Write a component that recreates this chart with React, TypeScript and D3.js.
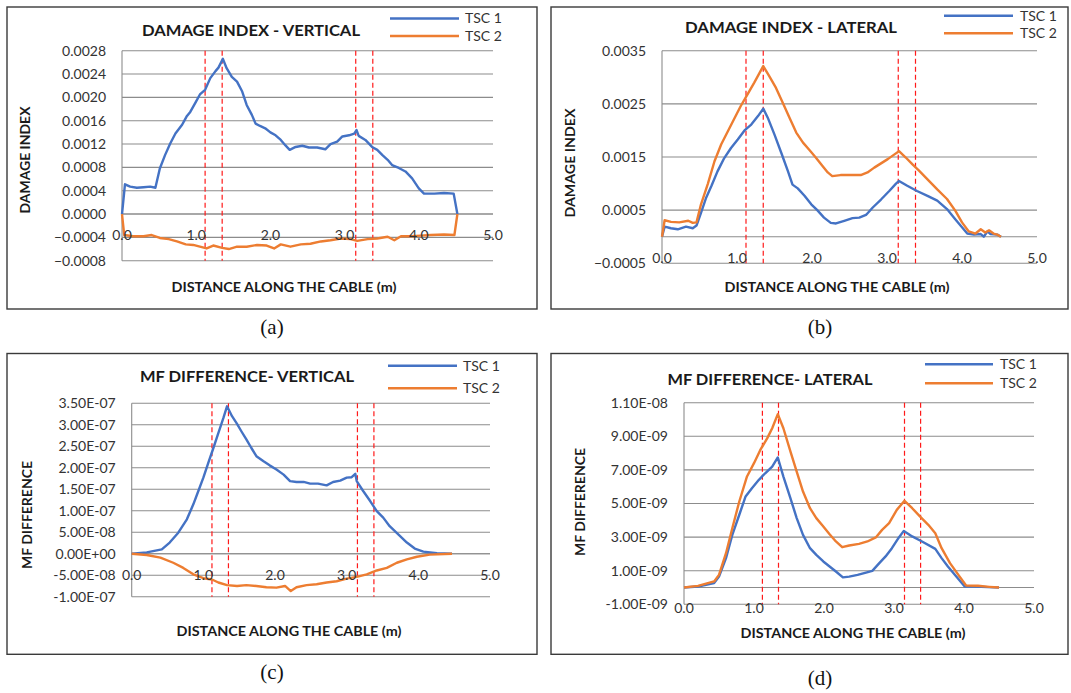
import * as d3 from 'd3';
import React, { FunctionComponent, useEffect, useRef } from 'react';

// distance along the cable (m) and readings
const viDist1 = [0, 0.04, 0.11, 0.2, 0.29, 0.38, 0.45, 0.51, 0.58, 0.65, 0.72, 0.81, 0.87, 0.92, 0.99, 1.05, 1.12, 1.19, 1.26, 1.3, 1.36, 1.41, 1.48, 1.55, 1.62, 1.68, 1.75, 1.8, 1.86, 1.93, 2.0, 2.07, 2.14, 2.2, 2.26, 2.34, 2.43, 2.52, 2.63, 2.74, 2.81, 2.9, 2.97, 3.06, 3.13, 3.16, 3.19, 3.28, 3.37, 3.44, 3.51, 3.58, 3.64, 3.73, 3.82, 3.91, 4.0, 4.07, 4.21, 4.34, 4.47, 4.52];
const viTsc1 = [0, 0.00051, 0.00047, 0.00045, 0.00046, 0.00047, 0.00045, 0.00078, 0.00101, 0.00121, 0.00138, 0.00153, 0.00167, 0.00175, 0.00191, 0.00205, 0.00213, 0.00233, 0.00245, 0.00251, 0.00266, 0.0025, 0.00235, 0.00227, 0.0021, 0.00187, 0.0017, 0.00155, 0.00151, 0.00147, 0.0014, 0.00135, 0.00127, 0.00118, 0.0011, 0.00115, 0.00117, 0.00114, 0.00114, 0.00111, 0.0012, 0.00124, 0.00133, 0.00135, 0.00138, 0.00144, 0.00134, 0.00127, 0.00115, 0.0011, 0.00101, 0.00093, 0.00084, 0.00079, 0.00073, 0.00061, 0.00044, 0.00035, 0.00035, 0.00036, 0.00035, 0];
const viDist2 = [0, 0.03, 0.15, 0.29, 0.4, 0.51, 0.63, 0.74, 0.86, 0.96, 1.05, 1.14, 1.23, 1.35, 1.44, 1.55, 1.68, 1.82, 1.95, 2.05, 2.14, 2.27, 2.41, 2.54, 2.68, 2.81, 2.95, 3.08, 3.17, 3.31, 3.44, 3.58, 3.67, 3.76, 3.89, 4.03, 4.16, 4.34, 4.48, 4.52];
const viTsc2 = [0, -0.00036, -0.00038, -0.00038, -0.00036, -0.00041, -0.00043, -0.00047, -0.00052, -0.00053, -0.00056, -0.00059, -0.00054, -0.00058, -0.0006, -0.00056, -0.00056, -0.00053, -0.00054, -0.00059, -0.00052, -0.00056, -0.00052, -0.00051, -0.00047, -0.00045, -0.00042, -0.00043, -0.00046, -0.00043, -0.00042, -0.00039, -0.00045, -0.00038, -0.00038, -0.00037, -0.00036, -0.00035, -0.00036, 0];

const diDist1 = [0, 0.035, 0.12, 0.21, 0.32, 0.41, 0.46, 0.52, 0.59, 0.66, 0.74, 0.83, 0.92, 1.01, 1.1, 1.19, 1.28, 1.35, 1.41, 1.5, 1.59, 1.68, 1.74, 1.81, 1.9, 1.99, 2.07, 2.16, 2.25, 2.32, 2.43, 2.54, 2.63, 2.72, 2.81, 2.92, 3.03, 3.12, 3.16, 3.27, 3.4, 3.54, 3.67, 3.8, 3.91, 4.0, 4.07, 4.16, 4.25, 4.29, 4.34, 4.38, 4.47, 4.52];
const diTsc1 = [0, 0.00019, 0.00016, 0.00014, 0.00019, 0.00016, 0.00021, 0.00045, 0.00074, 0.00096, 0.00123, 0.00148, 0.00167, 0.00183, 0.002, 0.00211, 0.00227, 0.00241, 0.00224, 0.00192, 0.00158, 0.00123, 0.00098, 0.00091, 0.00077, 0.00061, 0.0005, 0.00036, 0.00026, 0.00025, 0.0003, 0.00035, 0.00036, 0.00041, 0.00055, 0.0007, 0.00086, 0.001, 0.00105, 0.00096, 0.00086, 0.00077, 0.00068, 0.00052, 0.00033, 0.00018, 0.00006, 0.00004, 0.00005, 0, 0.0001, 0.00005, 0.00004, 0];
const diDist2 = [0, 0.035, 0.12, 0.23, 0.35, 0.41, 0.46, 0.52, 0.61, 0.7, 0.79, 0.88, 0.97, 1.05, 1.14, 1.23, 1.35, 1.43, 1.52, 1.61, 1.7, 1.79, 1.88, 1.96, 2.05, 2.14, 2.21, 2.27, 2.38, 2.52, 2.65, 2.74, 2.83, 2.92, 3.01, 3.09, 3.16, 3.25, 3.34, 3.43, 3.54, 3.67, 3.8, 3.91, 4.0, 4.09, 4.18, 4.25, 4.31, 4.36, 4.42, 4.47, 4.52];
const diTsc2 = [0, 0.00031, 0.00028, 0.00027, 0.0003, 0.00026, 0.00027, 0.00061, 0.00099, 0.00142, 0.00174, 0.00199, 0.00224, 0.00246, 0.00268, 0.0029, 0.00321, 0.00302, 0.0028, 0.00252, 0.00224, 0.00196, 0.00177, 0.00164, 0.00149, 0.00133, 0.00121, 0.00114, 0.00116, 0.00116, 0.00116, 0.00121, 0.0013, 0.00138, 0.00146, 0.00154, 0.00161, 0.00149, 0.00136, 0.00124, 0.00108, 0.00089, 0.00071, 0.00049, 0.00027, 0.0001, 0.00006, 0.00014, 0.00008, 0.00012, 0.00006, 0.00004, 0];

const mvDist1 = [0, 0.21, 0.42, 0.53, 0.65, 0.77, 0.86, 0.93, 1.0, 1.07, 1.14, 1.21, 1.28, 1.33, 1.4, 1.47, 1.53, 1.6, 1.67, 1.74, 1.84, 1.93, 2.02, 2.12, 2.21, 2.3, 2.4, 2.49, 2.6, 2.72, 2.81, 2.91, 3.0, 3.07, 3.12, 3.14, 3.23, 3.33, 3.42, 3.51, 3.6, 3.72, 3.84, 3.95, 4.07, 4.26, 4.47];
const mvTsc1 = [0, 3e-9, 1e-8, 2.6e-8, 4.9e-8, 8e-8, 1.15e-7, 1.46e-7, 1.77e-7, 2.12e-7, 2.46e-7, 2.81e-7, 3.16e-7, 3.43e-7, 3.2e-7, 3.02e-7, 2.85e-7, 2.66e-7, 2.46e-7, 2.27e-7, 2.15e-7, 2.05e-7, 1.96e-7, 1.84e-7, 1.69e-7, 1.67e-7, 1.67e-7, 1.63e-7, 1.63e-7, 1.59e-7, 1.67e-7, 1.7e-7, 1.77e-7, 1.78e-7, 1.86e-7, 1.69e-7, 1.46e-7, 1.22e-7, 9.9e-8, 8.4e-8, 6.4e-8, 4.5e-8, 2.6e-8, 1.2e-8, 5e-9, 1e-9, 0];
const mvDist2 = [0, 0.21, 0.4, 0.58, 0.72, 0.86, 1.0, 1.12, 1.21, 1.33, 1.47, 1.6, 1.74, 1.88, 2.02, 2.14, 2.22, 2.3, 2.44, 2.58, 2.72, 2.86, 3.0, 3.14, 3.28, 3.42, 3.56, 3.7, 3.84, 3.98, 4.16, 4.47];
const mvTsc2 = [0, -3e-9, -9e-9, -2.1e-8, -3.3e-8, -4.8e-8, -5.7e-8, -6e-8, -6.7e-8, -7.3e-8, -7.5e-8, -7.3e-8, -7.5e-8, -7.8e-8, -7.9e-8, -7.5e-8, -8.7e-8, -7.8e-8, -7.3e-8, -7.1e-8, -6.7e-8, -6.4e-8, -5.8e-8, -5.4e-8, -4.8e-8, -3.9e-8, -3.3e-8, -2.1e-8, -1.3e-8, -7e-9, -2e-9, 0];

const mlDist1 = [0, 0.2, 0.43, 0.5, 0.6, 0.69, 0.79, 0.88, 0.97, 1.07, 1.16, 1.26, 1.34, 1.42, 1.52, 1.61, 1.7, 1.8, 1.89, 1.99, 2.08, 2.17, 2.27, 2.36, 2.48, 2.6, 2.69, 2.79, 2.88, 2.97, 3.07, 3.14, 3.26, 3.4, 3.59, 3.68, 3.77, 3.89, 4.01, 4.15, 4.34, 4.5];
const mlTsc1 = [0, 6e-11, 2.6e-10, 6.5e-10, 1.75e-9, 3.13e-9, 4.33e-9, 5.42e-9, 5.91e-9, 6.41e-9, 6.8e-9, 7.2e-9, 7.74e-9, 6.6e-9, 5.32e-9, 4.13e-9, 3.13e-9, 2.34e-9, 1.94e-9, 1.55e-9, 1.25e-9, 9.5e-10, 6e-10, 6.5e-10, 7.5e-10, 8.9e-10, 9.9e-10, 1.45e-9, 1.85e-9, 2.34e-9, 2.98e-9, 3.37e-9, 3.04e-9, 2.74e-9, 2.3e-9, 1.75e-9, 1.25e-9, 6.5e-10, 6e-11, 6e-11, 2e-11, 0];
const mlDist2 = [0, 0.2, 0.43, 0.5, 0.6, 0.69, 0.79, 0.9, 1.0, 1.09, 1.19, 1.26, 1.34, 1.42, 1.52, 1.61, 1.7, 1.8, 1.89, 1.99, 2.08, 2.17, 2.26, 2.36, 2.5, 2.62, 2.74, 2.83, 2.93, 3.04, 3.15, 3.26, 3.37, 3.49, 3.59, 3.68, 3.8, 3.92, 4.03, 4.2, 4.36, 4.5];
const mlTsc2 = [0, 1e-10, 3.6e-10, 7.5e-10, 2.04e-9, 3.53e-9, 5.12e-9, 6.61e-9, 7.4e-9, 8.19e-9, 8.89e-9, 9.48e-9, 1.032e-8, 9.48e-9, 8.1e-9, 6.9e-9, 5.71e-9, 4.72e-9, 4.13e-9, 3.63e-9, 3.17e-9, 2.74e-9, 2.4e-9, 2.5e-9, 2.6e-9, 2.74e-9, 2.98e-9, 3.43e-9, 3.83e-9, 4.62e-9, 5.16e-9, 4.72e-9, 4.23e-9, 3.73e-9, 3.23e-9, 2.34e-9, 1.45e-9, 7.5e-10, 1.2e-10, 1e-10, 4e-11, 0];

const xTicks = [0, 1, 2, 3, 4, 5];
const damageLines = [1.12, 1.35, 3.15, 3.38];
const viTicks = [-0.0008, -0.0004, 0, 0.0004, 0.0008, 0.0012, 0.0016, 0.002, 0.0024, 0.0028];
const diTicks = [-0.0005, 0.0005, 0.0015, 0.0025, 0.0035];
const mvTicks = [-1e-7, -5e-8, 0, 5e-8, 1e-7, 1.5e-7, 2e-7, 2.5e-7, 3e-7, 3.5e-7];
const mlTicks = [-1e-9, 1e-9, 3e-9, 5e-9, 7e-9, 9e-9, 1.1e-8];
const seriesNames = ['TSC 1', 'TSC 2'];
const seriesColors = ['#4472C4', '#ED7D31'];

const fmtFixed = d3.format('.4f');
const fmtSci = (v: number) => {
    const [m, e] = v.toExponential(2).split('e');
    const n = Math.abs(+e);
    return `${m}E${+e < 0 ? '-' : '+'}${n < 10 ? '0' + n : n}`;
};

interface PanelSpec {
    title: string;
    yTitle: string;
    caption: string;
    box: number[];
    plotX: number[];
    plotY: number[];
    yDomain: number[];
    yTicks: number[];
    fmt: (v: number) => string;
    dists: number[][];
    vals: number[][];
    titlePos: number[];
    legendX: number[];
    legendY: number[];
    yTitlePos: number[];
    xTitlePos: number[];
    captionPos: number[];
}

const panels: PanelSpec[] = [
    {
        title: 'DAMAGE INDEX - VERTICAL', yTitle: 'DAMAGE INDEX', caption: '(a)',
        box: [7, 7, 537, 309], plotX: [122, 493], plotY: [50.7, 260.7],
        yDomain: [-0.0008, 0.0028], yTicks: viTicks, fmt: fmtFixed,
        dists: [viDist1, viDist2], vals: [viTsc1, viTsc2],
        titlePos: [251, 30, 218], legendX: [390, 459, 465], legendY: [18.5, 36],
        yTitlePos: [25, 160, 107], xTitlePos: [284, 287, 225], captionPos: [272, 327],
    },
    {
        title: 'DAMAGE INDEX - LATERAL', yTitle: 'DAMAGE INDEX', caption: '(b)',
        box: [551, 7, 1068, 309], plotX: [662, 1037], plotY: [50.7, 263.3],
        yDomain: [-0.0005, 0.0035], yTicks: diTicks, fmt: fmtFixed,
        dists: [diDist1, diDist2], vals: [diTsc1, diTsc2],
        titlePos: [791, 27, 212], legendX: [944, 1013, 1020], legendY: [15.7, 33.3],
        yTitlePos: [570, 163, 109], xTitlePos: [837, 287, 225], captionPos: [820, 327],
    },
    {
        title: 'MF DIFFERENCE-  VERTICAL', yTitle: 'MF DIFFERENCE', caption: '(c)',
        box: [7, 353.5, 537, 654.3], plotX: [131.7, 490], plotY: [403.3, 596.7],
        yDomain: [-1e-7, 3.5e-7], yTicks: mvTicks, fmt: fmtSci,
        dists: [mvDist1, mvDist2], vals: [mvTsc1, mvTsc2],
        titlePos: [247, 376, 214], legendX: [388, 457, 463], legendY: [365.7, 388.3],
        yTitlePos: [27, 515, 108], xTitlePos: [289, 631, 225], captionPos: [272, 672],
    },
    {
        title: 'MF DIFFERENCE-  LATERAL', yTitle: 'MF DIFFERENCE', caption: '(d)',
        box: [551, 353.5, 1068, 654.3], plotX: [684, 1034], plotY: [402.7, 604.3],
        yDomain: [-1e-9, 1.1e-8], yTicks: mlTicks, fmt: fmtSci,
        dists: [mlDist1, mlDist2], vals: [mlTsc1, mlTsc2],
        titlePos: [770, 379, 205], legendX: [925, 993, 1000], legendY: [364.3, 383.3],
        yTitlePos: [580, 502, 108], xTitlePos: [853, 633, 225], captionPos: [820, 678],
    },
];

const font = 'Lato, "Open Sans", sans-serif';

const Panel: FunctionComponent<{ spec: PanelSpec }> = ({ spec }) => {
    const ref = useRef<SVGGElement>(null);

    useEffect(() => {
        const g = d3.select(ref.current);
        g.selectAll('*').remove();
        const [bx0, by0, bx1, by1] = spec.box;
        g.append('rect')
            .attr('x', bx0)
            .attr('y', by0)
            .attr('width', bx1 - bx0)
            .attr('height', by1 - by0)
            .attr('fill', '#fff')
            .attr('stroke', '#3a3a3a')
            .attr('stroke-width', 1.4);

        const x = d3.scaleLinear().domain([0, 5]).range(spec.plotX);
        const y = d3.scaleLinear().domain(spec.yDomain).range([spec.plotY[1], spec.plotY[0]]);

        // horizontal gridlines at the ticks, plus the zero axis
        g.selectAll('.grid')
            .data([...spec.yTicks, 0])
            .join('line')
            .attr('x1', x(0))
            .attr('x2', x(5))
            .attr('y1', (d) => y(d))
            .attr('y2', (d) => y(d))
            .attr('stroke', '#8c8c8c')
            .attr('stroke-width', 1.1);
        g.append('line')
            .attr('x1', x(0))
            .attr('x2', x(0))
            .attr('y1', y(spec.yDomain[0]))
            .attr('y2', y(spec.yDomain[1]))
            .attr('stroke', '#8c8c8c')
            .attr('stroke-width', 1.1);

        // damage location markers
        g.selectAll('.zone')
            .data(damageLines)
            .join('line')
            .attr('x1', (d) => x(d))
            .attr('x2', (d) => x(d))
            .attr('y1', y(spec.yDomain[1]))
            .attr('y2', y(spec.yDomain[0]))
            .attr('stroke', '#ff1a1a')
            .attr('stroke-width', 1.2)
            .attr('stroke-dasharray', '5,3');

        const line = d3.line<[number, number]>()
            .x((d) => x(d[0]))
            .y((d) => y(d[1]));
        spec.vals.forEach((vals, k) => {
            const pts = vals.map((v, i) => [spec.dists[k][i], v] as [number, number]);
            g.append('path')
                .attr('d', line(pts))
                .attr('fill', 'none')
                .attr('stroke', seriesColors[k])
                .attr('stroke-width', 2.4)
                .attr('stroke-linejoin', 'round');
        });

        // tick labels
        g.selectAll('.ytick')
            .data(spec.yTicks.concat(spec.yDomain[0] < 0 && spec.yTicks.includes(0) ? [] : []))
            .join('text')
            .attr('x', spec.plotX[0] - 16)
            .attr('y', (d) => y(d))
            .attr('dy', '0.35em')
            .attr('text-anchor', 'end')
            .attr('font-family', font)
            .attr('font-size', 14)
            .attr('fill', '#333')
            .text((d) => spec.fmt(d));
        g.selectAll('.xtick')
            .data(xTicks)
            .join('text')
            .attr('x', (d) => x(d))
            .attr('y', y(0) + 21)
            .attr('dy', '0.35em')
            .attr('text-anchor', 'middle')
            .attr('font-family', font)
            .attr('font-size', 14)
            .attr('fill', '#333')
            .text((d) => d.toFixed(1));

        // titles
        g.append('text')
            .attr('x', spec.titlePos[0])
            .attr('y', spec.titlePos[1])
            .attr('dy', '0.35em')
            .attr('text-anchor', 'middle')
            .attr('font-family', font)
            .attr('font-weight', 'bold')
            .attr('font-size', 16)
            .attr('fill', '#1a1a1a')
            .attr('textLength', spec.titlePos[2])
            .attr('lengthAdjust', 'spacingAndGlyphs')
            .text(spec.title);
        g.append('text')
            .attr('transform', `translate(${spec.yTitlePos[0]},${spec.yTitlePos[1]}) rotate(-90)`)
            .attr('dy', '0.35em')
            .attr('text-anchor', 'middle')
            .attr('font-family', font)
            .attr('font-weight', 'bold')
            .attr('font-size', 13)
            .attr('fill', '#1a1a1a')
            .attr('textLength', spec.yTitlePos[2])
            .attr('lengthAdjust', 'spacingAndGlyphs')
            .text(spec.yTitle);
        g.append('text')
            .attr('x', spec.xTitlePos[0])
            .attr('y', spec.xTitlePos[1])
            .attr('dy', '0.35em')
            .attr('text-anchor', 'middle')
            .attr('font-family', font)
            .attr('font-weight', 'bold')
            .attr('font-size', 13)
            .attr('fill', '#1a1a1a')
            .attr('textLength', spec.xTitlePos[2])
            .attr('lengthAdjust', 'spacingAndGlyphs')
            .text('DISTANCE ALONG THE CABLE (m)');

        // legend
        seriesNames.forEach((name, k) => {
            g.append('line')
                .attr('x1', spec.legendX[0])
                .attr('x2', spec.legendX[1])
                .attr('y1', spec.legendY[k])
                .attr('y2', spec.legendY[k])
                .attr('stroke', seriesColors[k])
                .attr('stroke-width', 2.6);
            g.append('text')
                .attr('x', spec.legendX[2])
                .attr('y', spec.legendY[k])
                .attr('dy', '0.35em')
                .attr('font-family', font)
                .attr('font-size', 14)
                .attr('fill', '#333')
                .text(name);
        });

        g.append('text')
            .attr('x', spec.captionPos[0])
            .attr('y', spec.captionPos[1])
            .attr('dy', '0.35em')
            .attr('text-anchor', 'middle')
            .attr('font-family', '"Liberation Serif", "Times New Roman", serif')
            .attr('font-size', 21)
            .attr('fill', '#111')
            .text(spec.caption);
    }, [spec]);

    return <g ref={ref} />;
};

export default function App() {
    return (
        <svg
            width={1071}
            height={693}
            style={{ position: 'absolute', left: 0, top: 0, background: '#fff' }}
        >
            {panels.map((p) => (
                <Panel key={p.caption} spec={p} />
            ))}
        </svg>
    );
}
